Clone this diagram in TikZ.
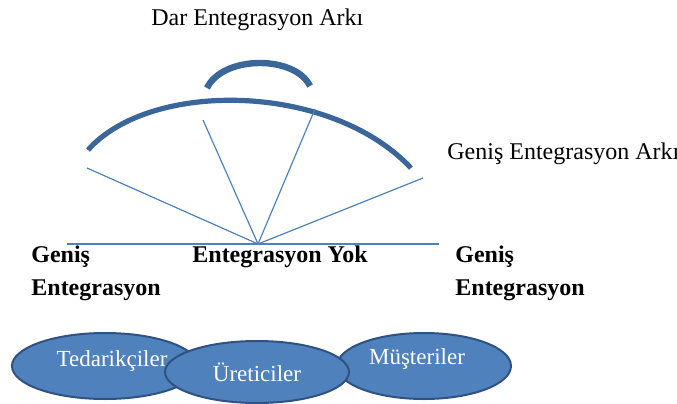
\documentclass[tikz,border=0pt]{standalone}
\usepackage{fontspec}
\setmainfont{Liberation Serif}
\usetikzlibrary{shapes.geometric}
\definecolor{spokeblue}{HTML}{4F81BD}
\definecolor{arcblue}{HTML}{3A6699}
\definecolor{rimblue}{HTML}{2F5282}

\begin{document}
\begin{tikzpicture}[
    x=0.5pt, y=-0.5pt,
    spoke/.style={draw=spokeblue, line width=0.6pt},
    arcline/.style={draw=arcblue, line width=2.6pt},
    party/.style={ellipse, draw=rimblue, line width=1pt, fill=spokeblue, inner sep=0pt},
    partytext/.style={text=white, font=\fontsize{11.5}{13}\selectfont},
    caption/.style={anchor=base west, inner sep=0pt, font=\fontsize{12}{14}\selectfont},
    boldcap/.style={caption, font=\fontsize{12}{14}\selectfont\bfseries}
]
    \useasboundingbox (0,0) rectangle (677,403);

    % Arcs
    \coordinate (narrowL) at (207,88);
    \coordinate (narrowR) at (310,86);
    \coordinate (wideL) at (88,150);
    \coordinate (wideR) at (411,168);
    \draw[arcline, line width=3.2pt] (narrowL) .. controls (223,55) and (295,55) .. (narrowR);
    \draw[arcline] (wideL) .. controls (150,80) and (330,82) .. (wideR);

    % Spokes
    \coordinate (hub) at (258,244);
    \coordinate (baseL) at (67,244);
    \coordinate (baseR) at (439,244);
    \coordinate (tipA) at (87,168);
    \coordinate (tipB) at (203,120);
    \coordinate (tipC) at (315,109);
    \coordinate (tipD) at (423,178);
    \draw[spoke] (baseL) -- (baseR);
    \foreach \t in {tipA, tipB, tipC, tipD}
        \draw[spoke] (hub) -- (\t);

    % Texts
    \node[caption] (darArk) at (151,25) {Dar Entegrasyon Arkı};
    \node[caption] (genisArk) at (447,159) {Geniş Entegrasyon Arkı};
    \node[boldcap] (genisL) at (31,262) {Geniş};
    \node[boldcap] (entL) at (31,295) {Entegrasyon};
    \node[boldcap] (yok) at (192,262) {Entegrasyon Yok};
    \node[boldcap] (genisR) at (455,262) {Geniş};
    \node[boldcap] (entR) at (455,295) {Entegrasyon};

    % Parties
    \node[party, minimum width=93pt, minimum height=33pt] (tedarik) at (105,366) {};
    \node[party, minimum width=87pt, minimum height=33pt] (musteri) at (424,366) {};
    \node[party, minimum width=92pt, minimum height=31pt] (uretici) at (257,372) {};
    \node[partytext] (tedarikT) at (112,361) {Tedarikçiler};
    \node[partytext] (musteriT) at (417,359) {Müşteriler};
    \node[partytext] (ureticiT) at (257,372) {Üreticiler};
\end{tikzpicture}
\end{document}
